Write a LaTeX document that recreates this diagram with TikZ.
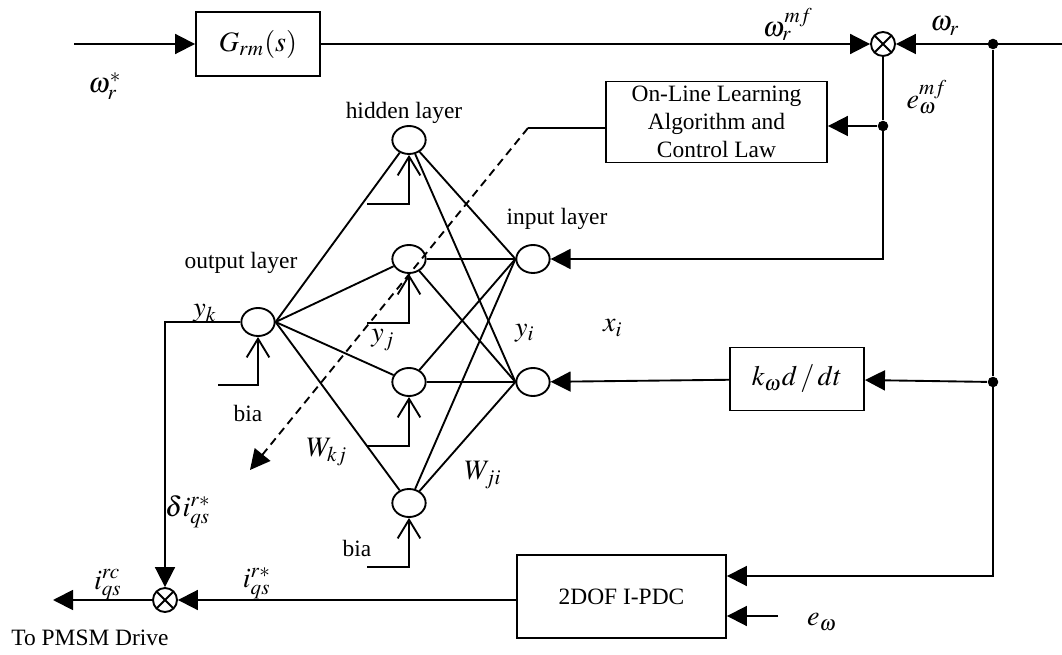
\documentclass[tikz,border=0pt]{standalone}
\usepackage{mathptmx}
\usepackage{fontspec}
\setmainfont{Liberation Serif}
\usetikzlibrary{arrows.meta,shapes.geometric}

\tikzset{
  block/.style={draw,inner sep=0pt,align=center},
  neuron/.style={ellipse,draw,minimum width=0.5cm,minimum height=0.42cm,inner sep=0pt},
  summer/.style={circle,draw,minimum size=0.36cm,inner sep=0pt,
    path picture={\draw (path picture bounding box.north west)--(path picture bounding box.south east)
      (path picture bounding box.north east)--(path picture bounding box.south west);}},
  sig/.style={-{Triangle[length=0.3cm,width=0.3cm]}},
  bias/.style={-{Straight Barb[length=0.28cm,width=0.34cm]}},
  tap/.style={circle,fill,inner sep=0pt,minimum size=4.5pt},
  lbl/.style={font=\large},
  nndash/.style={dash pattern=on 0.12cm off 0.08cm},
}

\begin{document}
\begin{tikzpicture}[x=0.015cm,y=-0.015cm,thick]
  \useasboundingbox (0,0) rectangle (1062,655);
  % blocks
  \node[block,minimum width=1.86cm,minimum height=0.96cm,font=\large] (G) at (258,44) {$G_{rm}(s)$};
  \node[block,minimum width=3.315cm,minimum height=1.215cm] (learn) at (716.5,122) {On-Line Learning\\Algorithm and\\Control Law};
  \node[block,minimum width=2.01cm,minimum height=0.945cm,font=\large] (kd) at (797,379) {$k_\omega d\,/\,dt$};
  \node[block,minimum width=3.135cm,minimum height=1.245cm] (pdc) at (621.5,596.5) {2DOF I-PDC};
  \node[summer] (s1) at (883,44) {};
  \node[summer] (s2) at (165,600) {};
  % taps and free ends
  \coordinate (wref) at (74,44);
  \coordinate (wr) at (1062,44);
  \node[tap] (tap1) at (993,44) {};
  \node[tap] (tap2) at (993,382) {};
  \coordinate (tap3) at (993,576);
  \node[tap] (tap4) at (883,126) {};
  \coordinate (fb) at (883,259);
  \coordinate (ein) at (778,616);
  \coordinate (drv) at (53,600);
  \coordinate (nnadj) at (528,128);
  \coordinate (adj) at (250,470);
  % network
  \node[neuron] (out) at (258,322) {};
  \foreach \i/\y in {1/140,2/259,3/382,4/503}
    \node[neuron] (h\i) at (409,\y) {};
  \node[neuron] (in1) at (533,259) {};
  \node[neuron] (in2) at (533,382) {};
  \foreach \i in {1,...,4}{
    \draw (out.east) -- (h\i);
    \draw (h\i) -- (in1.west);
    \draw (h\i) -- (in2.west);
  }
  % biases
  \foreach \i/\y in {1/204,2/323,3/446,4/567}
    \draw[bias] (367,\y) -| (h\i.south);
  \draw[bias] (218,385) -| (out.south);
  % signals
  \draw[sig] (wref) -- (G);
  \draw[sig] (G) -- (s1);
  \draw[sig] (wr) -- (s1);
  \draw (tap1) -- (tap2);
  \draw[sig] (tap2.center) -- (tap3) -- (pdc.east |- tap3);
  \draw[sig] (tap2) -- (kd);
  \draw[sig] (kd) -- (in2);
  \draw (s1) -- (tap4);
  \draw[sig] (tap4) -- (learn.east |- tap4);
  \draw[sig] (tap4.center) -- (fb) -- (in1);
  \draw[sig] (ein) -- (pdc.east |- ein);
  \draw[sig] (pdc.west |- s2) -- (s2);
  \draw[sig] (s2) -- (drv);
  \draw[sig] (out) -| (s2);
  \draw (learn.west |- nnadj) -- (nnadj);
  \draw[sig,nndash] (nnadj) -- (adj);
  % labels
  \node[lbl] (lwref) at (105,86) {$\omega_r^*$};
  \node[lbl] (lwmf) at (788,24) {$\omega_r^{mf}$};
  \node[lbl] (lwr) at (945,26) {$\omega_r$};
  \node[lbl] (lemf) at (927,97) {$e_\omega^{mf}$};
  \node (lhid) at (404,113) {hidden layer};
  \node (linp) at (557,219) {input layer};
  \node (lout) at (241,263) {output layer};
  \node[lbl] (lyk) at (205,313) {$y_k$};
  \node[lbl] (lyj) at (383,340) {$y_j$};
  \node[lbl] (lyi) at (525,333) {$y_i$};
  \node[lbl] (lxi) at (613,328) {$x_i$};
  \node (lbia1) at (248,413) {bia};
  \node (lbia2) at (357,548) {bia};
  \node[lbl] (lwkj) at (327,452) {$W_{kj}$};
  \node[lbl] (lwji) at (483,475) {$W_{ji}$};
  \node[lbl] (ldi) at (188,512) {$\delta i_{qs}^{r*}$};
  \node[lbl] (liqs) at (257,583) {$i_{qs}^{r*}$};
  \node[lbl] (lirc) at (108,585) {$i_{qs}^{rc}$};
  \node (ldrv) at (90,638) {To PMSM Drive};
  \node[lbl] (lew) at (822,622) {$e_\omega$};
\end{tikzpicture}
\end{document}
